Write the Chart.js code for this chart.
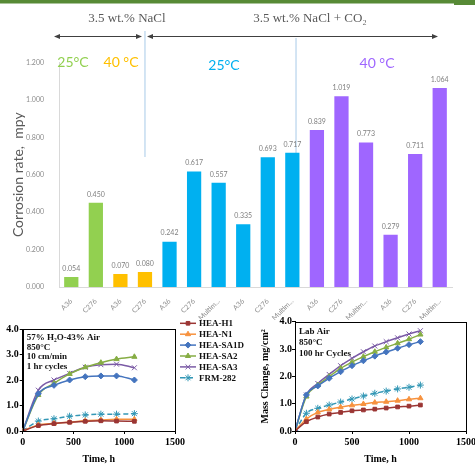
<!DOCTYPE html>
<html><head><meta charset="utf-8">
<style>
html,body{margin:0;padding:0;overflow:hidden;background:#fff;width:475px;height:464px}
canvas{position:absolute;display:block}
</style>
<script src="https://cdn.jsdelivr.net/npm/chart.js@4/dist/chart.umd.min.js"></script>
</head><body>
<canvas id="bar" width="475" height="320" style="left:0;top:0;width:475px;height:320px"></canvas>
<canvas id="left" width="255" height="149" style="left:0;top:315px;width:255px;height:149px"></canvas>
<canvas id="right" width="225" height="159" style="left:250px;top:305px;width:225px;height:159px"></canvas>
<script>
// ---------- Bar chart data ----------
const barLabels = ['A36','C276','A36','C276','A36','C276','Multim...','A36','C276','Multim...','A36','C276','Multim...','A36','C276','Multim...'];
const naclAt25 = [0.054, 0.450];
const naclAt40 = [0.070, 0.080];
const co2At25 = [0.242, 0.617, 0.557, 0.335, 0.693, 0.717];
const co2At40 = [0.839, 1.019, 0.773, 0.279, 0.711, 1.064];
const barTicks = [0, 0.2, 0.4, 0.6, 0.8, 1.0, 1.2];

// ---------- Line chart data ----------
const steamTime = [0, 154, 308, 462, 616, 770, 924, 1100];
const steamH1   = [0, 0.21, 0.29, 0.34, 0.38, 0.40, 0.39, 0.38];
const steamN1   = [0, 0.24, 0.30, 0.35, 0.40, 0.43, 0.46, 0.46];
const steamSA1D = [0, 1.46, 1.79, 2.00, 2.13, 2.16, 2.16, 2.00];
const steamSA2  = [0, 1.41, 1.87, 2.24, 2.50, 2.68, 2.82, 2.91];
const steamSA3  = [0, 1.60, 2.00, 2.26, 2.50, 2.60, 2.62, 2.48];
const steamFRM  = [0, 0.39, 0.48, 0.58, 0.63, 0.66, 0.66, 0.68];

const airTime = [0, 100, 200, 300, 400, 500, 600, 700, 800, 900, 1000, 1100];
const airH1   = [0, 0.34, 0.51, 0.62, 0.68, 0.74, 0.77, 0.80, 0.84, 0.88, 0.91, 0.95];
const airN1   = [0, 0.44, 0.68, 0.79, 0.87, 0.94, 0.99, 1.04, 1.07, 1.11, 1.16, 1.20];
const airSA1D = [0, 1.32, 1.65, 1.93, 2.17, 2.39, 2.57, 2.74, 2.89, 3.03, 3.16, 3.27];
const airSA2  = [0, 1.26, 1.68, 1.99, 2.29, 2.52, 2.72, 2.90, 3.06, 3.21, 3.36, 3.53];
const airSA3  = [0, 1.32, 1.74, 2.07, 2.39, 2.66, 2.90, 3.11, 3.27, 3.41, 3.55, 3.67];
const airFRM  = [0, 0.65, 0.83, 0.95, 1.06, 1.17, 1.28, 1.38, 1.46, 1.54, 1.60, 1.68];

const lineTicks = [0, 0.5, 1.0, 1.5, 2.0, 2.5, 3.0, 3.5, 4.0];
const timeTicks = [0, 500, 1000, 1500];

const seriesNames = ['HEA-H1','HEA-N1','HEA-SA1D','HEA-SA2','HEA-SA3','FRM-282'];
const steamSeries = [steamH1, steamN1, steamSA1D, steamSA2, steamSA3, steamFRM];
const airSeries = [airH1, airN1, airSA1D, airSA2, airSA3, airFRM];

// ---------- styles ----------
const groupColors = ['#92D050', '#FFC000', '#00B0F0', '#9F66FF'];
const seriesStyles = [
  {color:'#9B3634', pointStyle:'rect', radius:2.6},
  {color:'#F7923E', pointStyle:'triangle', radius:3},
  {color:'#4474BE', pointStyle:'rectRot', radius:3},
  {color:'#86AD44', pointStyle:'triangle', radius:3},
  {color:'#7B5BA6', pointStyle:'crossRot', radius:3.5},
  {color:'#3397B5', pointStyle:'star', radius:3.5, dash:[5,3]}
];

const barValues = [].concat(naclAt25, naclAt40, co2At25, co2At40);
const barColors = [].concat(
  naclAt25.map(()=>groupColors[0]), naclAt40.map(()=>groupColors[1]),
  co2At25.map(()=>groupColors[2]), co2At40.map(()=>groupColors[3]));

const SANS = 'Lato';
const SERIF = 'Liberation Serif';

// ---------- plugins ----------
const valueLabels = {
  id:'valueLabels',
  afterDatasetsDraw(chart){
    const ctx = chart.ctx, meta = chart.getDatasetMeta(0);
    ctx.save();
    ctx.font = '7px ' + SANS;
    ctx.fillStyle = '#7f7f7f';
    ctx.textAlign = 'center';
    ctx.textBaseline = 'middle';
    meta.data.forEach((el, i) => ctx.fillText(barValues[i].toFixed(3), el.x, el.y - 8.5));
    ctx.restore();
  }
};

function arrow(ctx, x1, x2, y){
  ctx.beginPath(); ctx.moveTo(x1 + 3, y); ctx.lineTo(x2 - 3, y); ctx.stroke();
  ctx.beginPath(); ctx.moveTo(x1, y); ctx.lineTo(x1 + 6, y - 2.5); ctx.lineTo(x1 + 6, y + 2.5); ctx.closePath(); ctx.fill();
  ctx.beginPath(); ctx.moveTo(x2, y); ctx.lineTo(x2 - 6, y - 2.5); ctx.lineTo(x2 - 6, y + 2.5); ctx.closePath(); ctx.fill();
}

const headers = {
  id:'headers',
  beforeDatasetsDraw(chart){
    const ctx = chart.ctx, xs = chart.scales.x;
    const step = xs.getPixelForValue(1) - xs.getPixelForValue(0);
    const l1 = xs.getPixelForValue(3);
    const l2 = xs.getPixelForValue(9) + step * 0.15;
    ctx.save();
    // green band
    ctx.fillStyle = '#578A36';
    ctx.fillRect(0, 0, 475, 3.5);
    ctx.fillRect(454, 0, 21, 5);
    // vertical separators
    ctx.strokeStyle = '#C5DCF0';
    ctx.lineWidth = 1.5;
    ctx.beginPath(); ctx.moveTo(l1, 31); ctx.lineTo(l1, 157); ctx.stroke();
    ctx.beginPath(); ctx.moveTo(l2, 38); ctx.lineTo(l2, 157); ctx.stroke();
    // arrows
    ctx.strokeStyle = '#404040'; ctx.fillStyle = '#404040'; ctx.lineWidth = 1;
    arrow(ctx, 54, 142, 36.5);
    arrow(ctx, 147, 438, 36.5);
    // header text
    ctx.fillStyle = '#595959';
    ctx.font = '13px ' + SERIF;
    ctx.textAlign = 'center'; ctx.textBaseline = 'middle';
    ctx.fillText('3.5 wt.% NaCl', 127, 19);
    ctx.fillText('3.5 wt.% NaCl + CO\u2082', 310, 19);
    // temperatures
    ctx.font = '14px ' + SANS;
    ctx.fillStyle = groupColors[0]; ctx.fillText('25°C', 73, 62.5);
    ctx.fillStyle = groupColors[1]; ctx.fillText('40 °C', 121, 62.5);
    ctx.fillStyle = groupColors[2]; ctx.fillText('25°C', 224, 65);
    ctx.fillStyle = groupColors[3]; ctx.fillText('40 °C', 377, 63.5);
    ctx.restore();
  }
};

const frame = {
  id:'frame',
  afterDraw(chart){
    const a = chart.chartArea, ctx = chart.ctx;
    ctx.save(); ctx.strokeStyle = '#000'; ctx.lineWidth = 1;
    ctx.strokeRect(Math.round(a.left) + 0.5, Math.round(a.top) + 0.5, Math.round(a.right - a.left), Math.round(a.bottom - a.top));
    ctx.restore();
  }
};

function notes(lines, dx, y0, dy){
  return {
    id:'notes',
    afterDraw(chart){
      const ctx = chart.ctx, a = chart.chartArea;
      ctx.save();
      ctx.fillStyle = '#111'; ctx.font = 'bold 9px ' + SERIF;
      ctx.textAlign = 'left'; ctx.textBaseline = 'middle';
      lines.forEach((t, i) => ctx.fillText(t, a.left + dx, y0 + i * dy));
      ctx.restore();
    }
  };
}

const sideLegend = {
  id:'sideLegend',
  afterDraw(chart){
    const ctx = chart.ctx;
    chart.data.datasets.forEach((ds, i) => {
      const y = 8.3 + i * 10.9;
      ctx.save();
      ctx.strokeStyle = ds.borderColor; ctx.fillStyle = ds.backgroundColor;
      ctx.lineWidth = 1.5;
      ctx.setLineDash(ds.borderDash || []);
      ctx.beginPath(); ctx.moveTo(180, y); ctx.lineTo(196, y); ctx.stroke();
      ctx.setLineDash([]);
      ctx.lineWidth = 1;
      Chart.helpers.drawPoint(ctx, {pointStyle: ds.pointStyle, radius: ds.pointRadius, borderWidth: 1, rotation: 0}, 188, y);
      ctx.fillStyle = '#111';
      ctx.font = 'bold 9px ' + SERIF;
      ctx.textAlign = 'left'; ctx.textBaseline = 'middle';
      ctx.fillText(seriesNames[i], 199, y + 0.5);
      ctx.restore();
    });
  }
};

// ---------- bar chart ----------
new Chart(document.getElementById('bar'), {
  type:'bar',
  data:{labels:barLabels, datasets:[{data:barValues, backgroundColor:barColors, borderWidth:0, barPercentage:0.58, categoryPercentage:1}]},
  options:{
    responsive:false, animation:false,
    layout:{padding:{top:62.5, right:23, left:0, bottom:0}},
    plugins:{legend:{display:false}, tooltip:{enabled:false}},
    scales:{
      x:{
        grid:{display:false}, border:{color:'#d9d9d9', width:1},
        ticks:{autoSkip:false, minRotation:45, maxRotation:45, padding:2, color:'#8c8c8c', font:{family:SANS, size:7}},
        afterFit(s){ s.height = 33; s.paddingLeft = 0; s.paddingRight = 0; }
      },
      y:{
        min:0, max:1.2,
        grid:{display:false}, border:{color:'#d9d9d9', width:1},
        afterBuildTicks(s){ s.ticks = barTicks.map(v => ({value:v})); },
        ticks:{padding:7, color:'#8c8c8c', font:{family:SANS, size:7}, callback:v => Number(v).toFixed(3)},
        title:{display:true, text:'Corrosion rate,  mpy', color:'#595959', font:{family:SANS, size:14, lineHeight:1.2}, padding:{top:9.6, bottom:0}},
        afterFit(s){ s.width = 59; }
      }
    }
  },
  plugins:[headers, valueLabels]
});

// ---------- line charts ----------
function makeDatasets(times, series){
  return series.map((vals, i) => {
    const st = seriesStyles[i];
    return {
      label: seriesNames[i],
      data: vals.map((v, j) => ({x: times[j], y: v})),
      borderColor: st.color, backgroundColor: st.color,
      borderWidth: 1.5, borderDash: st.dash || [],
      pointStyle: st.pointStyle, pointRadius: st.radius, pointBorderWidth: 1,
      pointBackgroundColor: st.color, pointBorderColor: st.color,
      cubicInterpolationMode: 'monotone', fill: false
    };
  });
}

function lineOptions(pad, yWidth, tickPad, yTitle){
  const tickFont = {family:SERIF, size:10, weight:'bold'};
  return {
    responsive:false, animation:false,
    layout:{padding:pad},
    plugins:{legend:{display:false}, tooltip:{enabled:false}},
    scales:{
      x:{
        type:'linear', min:0, max:1500,
        afterBuildTicks(s){ s.ticks = timeTicks.map(v => ({value:v})); },
        grid:{drawOnChartArea:false, tickLength:3, tickColor:'#000'},
        border:{color:'#000'},
        ticks:{color:'#000', font:tickFont, padding:2, maxRotation:0, callback:v => String(v)},
        title:{display:true, text:'Time, h', color:'#000', font:{family:SERIF, size:10, weight:'bold', lineHeight:1}, padding:0},
        afterFit(s){ s.height = 33; s.paddingLeft = 0; s.paddingRight = 0; }
      },
      y:{
        min:0, max:4,
        afterBuildTicks(s){ s.ticks = lineTicks.map(v => ({value:v})); },
        grid:{drawOnChartArea:false, tickLength:3, tickColor:'#000'},
        border:{color:'#000'},
        ticks:{color:'#000', font:tickFont, padding:tickPad, callback:v => Number(v).toFixed(1)},
        title: yTitle ? {display:true, text:yTitle, color:'#000', font:{family:SERIF, size:10, weight:'bold', lineHeight:1.2}, padding:{top:9, bottom:0}} : {display:false},
        afterFit(s){ s.width = yWidth; s.paddingTop = 0; s.paddingBottom = 0; }
      }
    }
  };
}

new Chart(document.getElementById('left'), {
  type:'line',
  data:{datasets: makeDatasets(steamTime, steamSeries)},
  options: lineOptions({top:14, right:80, left:0, bottom:0}, 22.7, 1, null),
  plugins:[frame, sideLegend, notes(['57% H\u2082O-43% Air', '850°C', '10 cm/min', '1 hr cycles'], 4, 23, 9.4)]
});

new Chart(document.getElementById('right'), {
  type:'line',
  data:{datasets: makeDatasets(airTime, airSeries)},
  options: lineOptions({top:16.7, right:9, left:0, bottom:0}, 45, 0, 'Mass Change, mg/cm\u00B2'),
  plugins:[frame, notes(['Lab Air', '850°C', '100 hr Cycles'], 4, 26.7, 10.8)]
});
</script>
</body></html>
